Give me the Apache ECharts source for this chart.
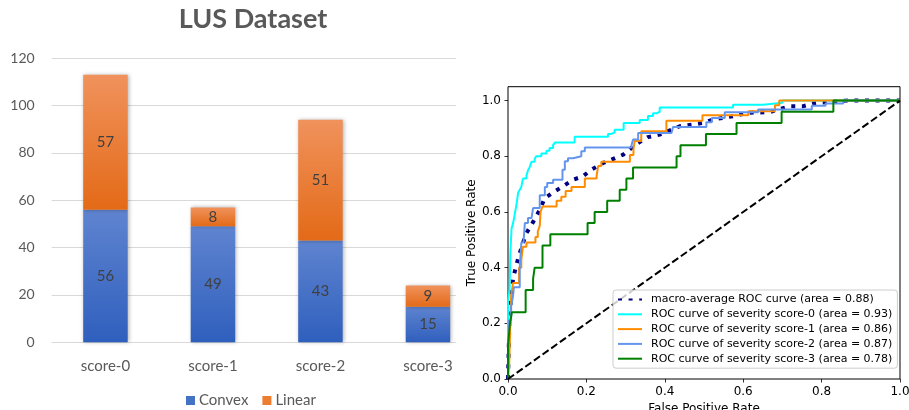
<!DOCTYPE html>
<html>
<head>
<meta charset="utf-8">
<script src="https://cdn.jsdelivr.net/npm/echarts@6/dist/echarts.min.js"></script>
<style>
html,body{margin:0;padding:0;background:#fff;}
#chart{width:909px;height:410px;}
</style>
</head>
<body>
<div id="chart"></div>
<script>
// ---------- Left chart data (LUS Dataset) ----------
const categories = ['score-0', 'score-1', 'score-2', 'score-3'];
const convexCounts = [56, 49, 43, 15];
const linearCounts = [57, 8, 51, 9];
const countTicks = [0, 20, 40, 60, 80, 100, 120];

// ---------- Right chart data (ROC curves) ----------
const rateTicks = [0.0, 0.2, 0.4, 0.6, 0.8, 1.0];

const macroFpr = [0, 0.004, 0.013, 0.026, 0.038, 0.047, 0.060, 0.072, 0.081, 0.094, 0.119, 0.140, 0.166, 0.191, 0.213, 0.243, 0.264, 0.294, 0.315, 0.332, 0.357, 0.387, 0.438, 0.472, 0.498, 0.523, 0.557, 0.583, 0.609, 0.668, 0.719, 0.753, 0.779, 0.813, 0.864, 1.0];
const macroTpr = [0, 0.236, 0.362, 0.434, 0.488, 0.524, 0.554, 0.584, 0.608, 0.650, 0.674, 0.692, 0.716, 0.728, 0.752, 0.776, 0.788, 0.806, 0.830, 0.848, 0.869, 0.878, 0.908, 0.914, 0.920, 0.932, 0.940, 0.946, 0.956, 0.959, 0.980, 0.980, 0.990, 0.994, 1.0, 1.0];

const score0Fpr = [0, 0, 0.004, 0.006, 0.009, 0.013, 0.017, 0.022, 0.026, 0.030, 0.034, 0.038, 0.047, 0.051, 0.055, 0.060, 0.068, 0.072, 0.085, 0.098, 0.106, 0.115, 0.120, 0.170, 0.255, 0.262, 0.272, 0.295, 0.336, 0.357, 0.370, 0.380, 0.387, 0.574, 0.651, 0.700, 1.0];
const score0Tpr = [0, 0.28, 0.32, 0.45, 0.54, 0.56, 0.59, 0.63, 0.67, 0.68, 0.69, 0.72, 0.73, 0.75, 0.76, 0.78, 0.79, 0.80, 0.81, 0.82, 0.83, 0.84, 0.85, 0.87, 0.88, 0.885, 0.895, 0.92, 0.93, 0.945, 0.955, 0.96, 0.975, 0.985, 0.992, 1.0, 1.0];

const score1Fpr = [0, 0.003, 0.006, 0.008, 0.013, 0.028, 0.034, 0.038, 0.047, 0.070, 0.076, 0.081, 0.083, 0.088, 0.124, 0.136, 0.147, 0.162, 0.196, 0.226, 0.230, 0.238, 0.311, 0.320, 0.323, 0.340, 0.404, 0.496, 0.613, 0.681, 0.692, 1.0];
const score1Tpr = [0, 0.05, 0.20, 0.30, 0.345, 0.40, 0.43, 0.475, 0.49, 0.51, 0.53, 0.55, 0.60, 0.62, 0.64, 0.655, 0.675, 0.69, 0.72, 0.73, 0.765, 0.78, 0.805, 0.825, 0.855, 0.89, 0.928, 0.947, 0.962, 0.983, 1.0, 1.0];

const score2Fpr = [0, 0.002, 0.008, 0.013, 0.015, 0.030, 0.034, 0.040, 0.043, 0.051, 0.060, 0.064, 0.081, 0.094, 0.100, 0.115, 0.139, 0.145, 0.153, 0.166, 0.187, 0.196, 0.315, 0.319, 0.332, 0.417, 0.421, 0.506, 0.520, 0.553, 0.638, 0.775, 0.810, 0.855, 1.0];
const score2Tpr = [0, 0.21, 0.26, 0.30, 0.33, 0.40, 0.49, 0.50, 0.56, 0.578, 0.584, 0.614, 0.66, 0.69, 0.704, 0.716, 0.752, 0.782, 0.793, 0.80, 0.818, 0.832, 0.84, 0.86, 0.884, 0.89, 0.905, 0.922, 0.938, 0.958, 0.968, 0.982, 0.99, 1.0, 1.0];

const score3Fpr = [0, 0, 0.005, 0.010, 0.045, 0.064, 0.068, 0.088, 0.108, 0.203, 0.221, 0.253, 0.285, 0.302, 0.319, 0.430, 0.440, 0.505, 0.583, 0.698, 0.830, 1.0];
const score3Tpr = [0, 0.12, 0.20, 0.24, 0.32, 0.36, 0.40, 0.48, 0.52, 0.56, 0.60, 0.64, 0.68, 0.72, 0.76, 0.80, 0.84, 0.88, 0.92, 0.96, 1.0, 1.0];

const chanceFpr = [0, 1];
const chanceTpr = [0, 1];

const rocNames = [
  'macro-average ROC curve (area = 0.88)',
  'ROC curve of severity score-0 (area = 0.93)',
  'ROC curve of severity score-1 (area = 0.86)',
  'ROC curve of severity score-2 (area = 0.87)',
  'ROC curve of severity score-3 (area = 0.78)'
];

function zip(xs, ys) { return xs.map((x, i) => [x, ys[i]]); }
function vGrad(top, bottom) {
  return new echarts.graphic.LinearGradient(0, 0, 0, 1, [
    { offset: 0, color: top }, { offset: 1, color: bottom }
  ]);
}

const chart = echarts.init(document.getElementById('chart'), null, { renderer: 'canvas' });

const barShadow = { shadowBlur: 4, shadowColor: 'rgba(0,0,0,0.3)', shadowOffsetX: 1, shadowOffsetY: 0 };
const barLabel = { show: true, position: 'inside', color: '#404040', fontSize: 15, fontFamily: 'Lato' };

const option = {
  animation: false,
  backgroundColor: '#fff',
  title: {
    text: 'LUS Dataset', left: 248, top: 1, textAlign: 'center',
    textStyle: { fontFamily: 'Lato', fontWeight: 'bold', fontSize: 27, color: '#595959' }
  },
  legend: [
    {
      data: [
        { name: 'Convex', itemStyle: { color: '#4472c4' } },
        { name: 'Linear', itemStyle: { color: '#ed7d31' } }
      ],
      left: 186, top: 393, padding: 0, icon: 'rect',
      itemWidth: 9, itemHeight: 9, itemGap: 14,
      textStyle: { fontFamily: 'Lato', fontSize: 15, color: '#595959', padding: [0, 0, 0, -1] }
    },
    {
      data: rocNames,
      orient: 'vertical', left: 613, top: 290,
      padding: [4, 5, 4, 4],
      itemWidth: 24, itemHeight: 12, itemGap: 3.8,
      backgroundColor: 'rgba(255,255,255,0.8)', borderColor: '#cccccc', borderWidth: 1, borderRadius: 3,
      itemStyle: { opacity: 0 },
      textStyle: { fontFamily: 'DejaVu Sans', fontSize: 11, color: '#000', padding: [0, 0, 0, 4] }
    }
  ],
  grid: [
    { left: 51.7, top: 58.3, width: 430, height: 284, outerBoundsMode: 'none', containLabel: false },
    { left: 51.7, top: 58.3, width: 404.3, height: 284, outerBoundsMode: 'none', containLabel: false },
    { left: 508, top: 86.7, width: 392, height: 292.3, outerBoundsMode: 'none', containLabel: false,
      show: true, borderColor: '#000', borderWidth: 1, backgroundColor: 'transparent' }
  ],
  xAxis: [
    {
      gridIndex: 0, type: 'category', data: categories,
      axisLine: { show: false }, axisTick: { show: false },
      axisLabel: { fontFamily: 'Lato', fontSize: 15, color: '#595959', margin: 16 }
    },
    { gridIndex: 1, type: 'value', min: 0, max: 1, show: false },
    {
      gridIndex: 2, type: 'value', min: 0, max: 1, interval: 0.2,
      name: 'False Positive Rate', nameLocation: 'middle', nameGap: 22,
      nameTextStyle: { fontFamily: 'DejaVu Sans', fontSize: 12, color: '#000' },
      axisLine: { show: false },
      axisTick: { show: true, length: 3.5, lineStyle: { color: '#000', width: 0.8 } },
      axisLabel: { fontFamily: 'DejaVu Sans', fontSize: 12, color: '#000', margin: 7,
        formatter: v => v.toFixed(1) },
      splitLine: { show: false }
    }
  ],
  yAxis: [
    { gridIndex: 0, type: 'value', min: countTicks[0], max: countTicks[countTicks.length - 1], interval: 20, show: false },
    {
      gridIndex: 1, type: 'value', min: countTicks[0], max: countTicks[countTicks.length - 1], interval: 20,
      axisLine: { show: false }, axisTick: { show: false },
      axisLabel: { fontFamily: 'Lato', fontSize: 14, color: '#595959', margin: 17 },
      splitLine: { lineStyle: { color: '#d9d9d9', width: 1 } }
    },
    {
      gridIndex: 2, type: 'value', min: 0, max: 1.05, interval: 0.2,
      name: 'True Positive Rate', nameLocation: 'middle', nameGap: 30, nameRotate: 90,
      nameTextStyle: { fontFamily: 'DejaVu Sans', fontSize: 12, color: '#000' },
      axisLine: { show: false },
      axisTick: { show: true, length: 3.5, lineStyle: { color: '#000', width: 0.8 }, customValues: rateTicks },
      axisLabel: { fontFamily: 'DejaVu Sans', fontSize: 12, color: '#000', margin: 7, customValues: rateTicks,
        formatter: v => (Math.abs(v * 5 - Math.round(v * 5)) < 1e-6 ? v.toFixed(1) : '') },
      splitLine: { show: false }
    }
  ],
  series: [
    {
      name: 'Convex', type: 'bar', stack: 'lus', xAxisIndex: 0, yAxisIndex: 0, barWidth: 44.5,
      data: convexCounts,
      itemStyle: Object.assign({ color: vGrad('#5f84d0', '#2f5fbd') }, barShadow),
      label: barLabel
    },
    {
      name: 'Linear', type: 'bar', stack: 'lus', xAxisIndex: 0, yAxisIndex: 0, barWidth: 44.5,
      data: linearCounts,
      itemStyle: Object.assign({ color: vGrad('#f0925c', '#e36a17') }, barShadow),
      label: barLabel
    },
    {
      name: rocNames[0], type: 'line', xAxisIndex: 2, yAxisIndex: 2, symbol: 'none',
      data: zip(macroFpr, macroTpr),
      lineStyle: { color: '#000080', width: 4, type: [4, 6.6], cap: 'butt' },
      itemStyle: { color: '#000080' }
    },
    {
      name: rocNames[1], type: 'line', step: 'end', xAxisIndex: 2, yAxisIndex: 2, symbol: 'none',
      data: zip(score0Fpr, score0Tpr),
      lineStyle: { color: '#00ffff', width: 2 }, itemStyle: { color: '#00ffff' }
    },
    {
      name: rocNames[2], type: 'line', step: 'end', xAxisIndex: 2, yAxisIndex: 2, symbol: 'none',
      data: zip(score1Fpr, score1Tpr),
      lineStyle: { color: '#ff8c00', width: 2 }, itemStyle: { color: '#ff8c00' }
    },
    {
      name: rocNames[3], type: 'line', step: 'end', xAxisIndex: 2, yAxisIndex: 2, symbol: 'none',
      data: zip(score2Fpr, score2Tpr),
      lineStyle: { color: '#6495ed', width: 2 }, itemStyle: { color: '#6495ed' }
    },
    {
      name: rocNames[4], type: 'line', step: 'end', xAxisIndex: 2, yAxisIndex: 2, symbol: 'none',
      data: zip(score3Fpr, score3Tpr),
      lineStyle: { color: '#008000', width: 2 }, itemStyle: { color: '#008000' }
    },
    {
      name: 'chance', type: 'line', xAxisIndex: 2, yAxisIndex: 2, symbol: 'none',
      data: zip(chanceFpr, chanceTpr),
      lineStyle: { color: '#000', width: 2, type: [7.4, 3.2] }
    }
  ]
};
chart.setOption(option);
</script>
</body>
</html>
